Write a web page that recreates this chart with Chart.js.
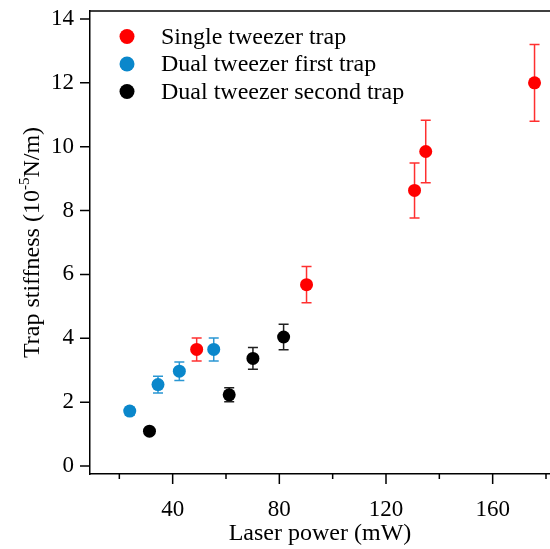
<!DOCTYPE html>
<html>
<head>
<meta charset="utf-8">
<script src="https://cdn.jsdelivr.net/npm/chart.js@4.4.0/dist/chart.umd.min.js"></script>
<style>
  body { margin: 0; background: #fff; }
</style>
</head>
<body>
<canvas id="myChart" width="550" height="549"></canvas>
<script>
  // data
  var singleX = [49, 90.2, 130.7, 134.9, 175.7];
  var singleY = [3.65, 5.68, 8.63, 9.85, 12.0];
  var singleErr = [0.36, 0.57, 0.86, 0.98, 1.2];

  var firstX = [23.9, 34.5, 42.5, 55.4];
  var firstY = [1.72, 2.55, 2.97, 3.65];
  var firstErr = [0.12, 0.26, 0.29, 0.36];

  var secondX = [31.3, 61.2, 70.1, 81.6];
  var secondY = [1.09, 2.23, 3.37, 4.04];
  var secondErr = [0.05, 0.22, 0.34, 0.4];

  var labels = ["Single tweezer trap", "Dual tweezer first trap", "Dual tweezer second trap"];
  var colors = ["#ff0000", "#0a87cb", "#000000"];
  var barColors = ["#ff3030", "#2a97d3", "#202020"];

  var xTicks = [20, 40, 60, 80, 100, 120, 140, 160, 180];
  var xLabels = [40, 80, 120, 160];
  var yTicks = [0, 2, 4, 6, 8, 10, 12, 14];

  var serif = "'Liberation Serif', 'DejaVu Serif', serif";

  function points(xs, ys, es) {
    var out = [];
    for (var i = 0; i < xs.length; i++) out.push({x: xs[i], y: ys[i], err: es[i]});
    return out;
  }

  var errorBars = {
    id: 'errorBars',
    beforeDatasetsDraw: function(chart) {
      var ctx = chart.ctx, x = chart.scales.x, y = chart.scales.y;
      ctx.save();
      ctx.lineWidth = 1.5;
      chart.data.datasets.forEach(function(ds, i) {
        ctx.strokeStyle = barColors[i];
        ds.data.forEach(function(p) {
          var px = x.getPixelForValue(p.x);
          var top = y.getPixelForValue(p.y + p.err);
          var bot = y.getPixelForValue(p.y - p.err);
          ctx.beginPath();
          ctx.moveTo(px, top); ctx.lineTo(px, bot);
          ctx.moveTo(px - 5, top); ctx.lineTo(px + 5, top);
          ctx.moveTo(px - 5, bot); ctx.lineTo(px + 5, bot);
          ctx.stroke();
        });
      });
      ctx.restore();
    }
  };

  var decorations = {
    id: 'decorations',
    afterDraw: function(chart) {
      var ctx = chart.ctx, x = chart.scales.x, y = chart.scales.y, a = chart.chartArea;
      ctx.save();
      ctx.strokeStyle = "#000";
      ctx.lineWidth = 1.5;
      // top frame line
      ctx.beginPath();
      ctx.moveTo(a.left, a.top); ctx.lineTo(a.right, a.top);
      ctx.stroke();
      // tick marks
      ctx.beginPath();
      yTicks.forEach(function(v) {
        var py = y.getPixelForValue(v);
        ctx.moveTo(a.left - 10, py); ctx.lineTo(a.left, py);
      });
      xTicks.forEach(function(v) {
        var px = x.getPixelForValue(v);
        var len = xLabels.indexOf(v) >= 0 ? 10 : 5;
        ctx.moveTo(px, a.bottom); ctx.lineTo(px, a.bottom + len);
      });
      ctx.stroke();

      // axis titles
      ctx.fillStyle = "#000";
      ctx.font = "24px " + serif;
      ctx.textAlign = "center";
      ctx.textBaseline = "alphabetic";
      ctx.fillText("Laser power (mW)", (a.left + a.right) / 2, 540);

      ctx.translate(39, (a.top + a.bottom) / 2);
      ctx.rotate(-Math.PI / 2);
      var p1 = "Trap stiffness (10", sup = "-5", p2 = "N/m)";
      ctx.font = "24px " + serif;
      var w1 = ctx.measureText(p1).width, w3 = ctx.measureText(p2).width;
      ctx.font = "15px " + serif;
      var w2 = ctx.measureText(sup).width;
      var sx = -(w1 + w2 + w3) / 2;
      ctx.textAlign = "left";
      ctx.font = "24px " + serif;
      ctx.fillText(p1, sx, 0);
      ctx.font = "15px " + serif;
      ctx.fillText(sup, sx + w1, -10);
      ctx.font = "24px " + serif;
      ctx.fillText(p2, sx + w1 + w2, 0);
      ctx.restore();

      // legend
      ctx.save();
      ctx.font = "24px " + serif;
      ctx.textAlign = "left";
      ctx.textBaseline = "middle";
      chart.data.datasets.forEach(function(ds, i) {
        var cy = 36.5 + i * 27.5;
        ctx.fillStyle = colors[i];
        ctx.beginPath();
        ctx.arc(127, cy, 7.5, 0, Math.PI * 2);
        ctx.fill();
        ctx.fillStyle = "#000";
        ctx.fillText(ds.label, 161, cy + 1);
      });
      ctx.restore();
    }
  };

  var chart = new Chart(document.getElementById("myChart").getContext('2d'), {
    type: "scatter",
    data: {
      datasets: [0, 1, 2].map(function(i) {
        var d = [points(singleX, singleY, singleErr), points(firstX, firstY, firstErr), points(secondX, secondY, secondErr)][i];
        return {
          label: labels[i],
          data: d,
          backgroundColor: colors[i],
          borderColor: colors[i],
          borderWidth: 0,
          pointRadius: 6.5,
          pointHoverRadius: 6.5
        };
      })
    },
    options: {
      responsive: false,
      animation: false,
      events: [],
      layout: { autoPadding: false, padding: { top: 11, left: 0, right: 0, bottom: 0 } },
      plugins: {
        legend: { display: false },
        tooltip: { enabled: false }
      },
      scales: {
        x: {
          type: "linear",
          position: "bottom",
          min: 9,
          max: 181.5,
          afterBuildTicks: function(s) { s.ticks = xTicks.map(function(v) { return {value: v}; }); },
          afterFit: function(s) { s.height = 75; s.paddingLeft = 0; s.paddingRight = 0; },
          ticks: {
            autoSkip: false,
            maxRotation: 0,
            padding: 22,
            color: "#000",
            font: { family: serif, size: 23 },
            callback: function(v) { return xLabels.indexOf(v) >= 0 ? String(v) : ""; }
          },
          grid: { display: false, drawTicks: false },
          border: { display: true, color: "#000", width: 1.5 }
        },
        y: {
          type: "linear",
          min: -0.25,
          max: 14.25,
          afterBuildTicks: function(s) { s.ticks = yTicks.map(function(v) { return {value: v}; }); },
          afterFit: function(s) { s.width = 90; s.paddingTop = 0; s.paddingBottom = 0; },
          ticks: {
            padding: 16,
            color: "#000",
            font: { family: serif, size: 23 },
            callback: function(v) { return String(v); }
          },
          grid: { display: false, drawTicks: false },
          border: { display: true, color: "#000", width: 1.5 }
        }
      }
    },
    plugins: [errorBars, decorations]
  });
</script>
</body>
</html>
